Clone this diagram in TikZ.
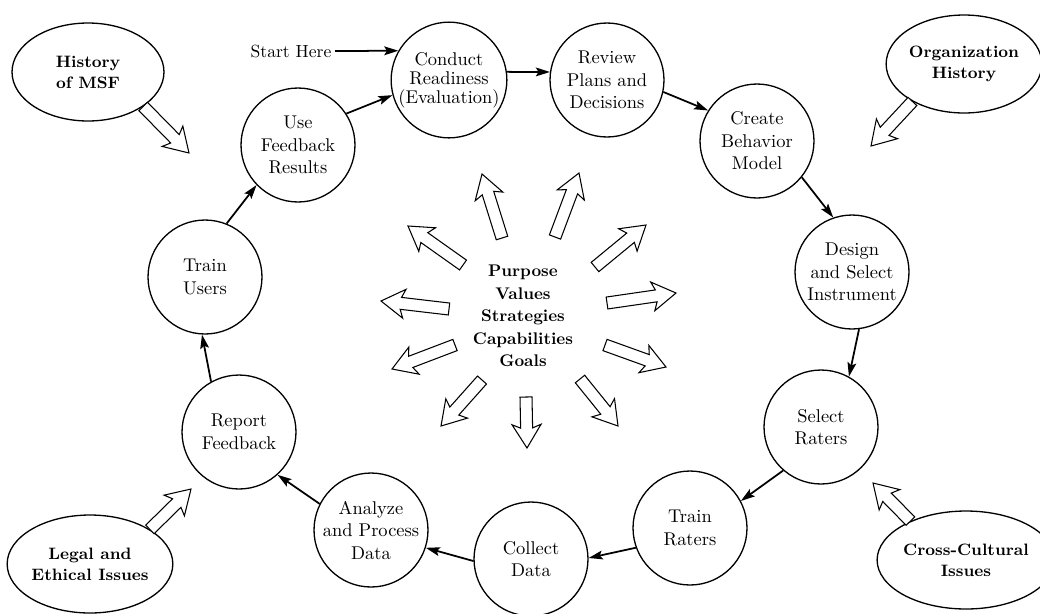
\documentclass[tikz,border=0pt]{standalone}
\usetikzlibrary{shapes.geometric,arrows.meta,calc}

\tikzset{
  stage/.style={circle, draw, line width=0.75pt, minimum size=2.28cm, inner sep=0pt,
    align=center, font=\fontsize{10.5}{12.8}\selectfont},
  influence/.style={ellipse, draw, line width=0.75pt, minimum width=3.04cm,
    minimum height=1.96cm, inner sep=0pt, align=center,
    font=\fontsize{9.4}{12}\selectfont\bfseries},
  flow/.style={line width=1pt, -{Stealth[length=8pt,width=5pt,inset=1.5pt]}},
  hollow/.style={draw, line width=0.6pt, fill=white, line join=miter},
}

% open block arrow from #1 (tail) to #2 (tip)
\newcommand{\hollowarrow}[2]{%
  \coordinate (ha-base) at ($(#2)!0.40cm!(#1)$);
  \coordinate (ha-barb) at ($(#2)!0.47cm!(#1)$);
  \draw[hollow] ($(#1)!0.12cm!90:(#2)$) -- ($(ha-base)!0.12cm!90:(#2)$)
    -- ($(ha-barb)!0.29cm!90:(#2)$) -- (#2) -- ($(ha-barb)!0.29cm!-90:(#2)$)
    -- ($(ha-base)!0.12cm!-90:(#2)$) -- ($(#1)!0.12cm!-90:(#2)$) -- cycle;}

\begin{document}
\begin{tikzpicture}[x=0.02cm, y=-0.02cm]
  \useasboundingbox (0,0) rectangle (1040,613);

  % stages of the cycle
  \node[stage, font=\fontsize{10.5}{10.9}\selectfont] (conduct) at (449,80) {Conduct\\Readiness\\(Evaluation)};
  \node[stage] (review) at (607,80) {Review\\Plans and\\Decisions};
  \node[stage] (create) at (757,141) {Create\\Behavior\\Model};
  \node[stage] (design) at (852,272) {Design\\and Select\\Instrument};
  \node[stage] (select) at (821,427) {Select\\Raters};
  \node[stage] (trainr) at (690,528) {Train\\Raters};
  \node[stage] (collect) at (531,559) {Collect\\Data};
  \node[stage] (analyze) at (371,530) {Analyze\\and Process\\Data};
  \node[stage] (report) at (239,432) {Report\\Feedback};
  \node[stage] (trainu) at (205,277) {Train\\Users};
  \node[stage] (use) at (298,145) {Use\\Feedback\\Results};

  \node[font=\fontsize{10}{12}\selectfont, inner sep=2pt] (start) at (291,51) {Start Here};

  % influences
  \node[influence] (msf) at (88,72) {History\\of MSF};
  \node[influence] (org) at (964,64) {Organization\\History};
  \node[influence] (legal) at (90,564) {Legal and\\Ethical Issues};
  \node[influence] (cross) at (966,560) {Cross-Cultural\\Issues};

  \node[font=\fontsize{9.6}{12.8}\selectfont\bfseries, align=center] (core) at (523,316)
    {Purpose\\Values\\Strategies\\Capabilities\\Goals};

  % cycle connectors
  \draw[flow] (start.east) -- (conduct.150);
  \draw[flow] (conduct.8) -- (review.172);
  \draw[flow] (review.348) -- (create.148);
  \draw[flow] (create.321) -- (design.109);
  \draw[flow] (design.277) -- (select.61);
  \draw[flow] (select.229) -- (trainr.28);
  \draw[flow] (trainr.200) -- (collect.1);
  \draw[flow] (collect.182) -- (analyze.342);
  \draw[flow] (analyze.153) -- (report.312);
  \draw[flow] (report.119) -- (trainu.267);
  \draw[flow] (trainu.68) -- (use.224);
  \draw[flow] (use.33) -- (conduct.195);

  % outside influences
  \coordinate (msf-tip) at (189,153);
  \coordinate (org-tip) at (871,146);
  \coordinate (legal-tip) at (191,489);
  \coordinate (cross-tip) at (873,483);
  \hollowarrow{msf.-32}{msf-tip}
  \hollowarrow{org.216}{org-tip}
  \hollowarrow{legal.30}{legal-tip}
  \hollowarrow{cross.145}{cross-tip}

  % arrows out of the core
  \foreach \a/\b/\c/\d in {502/238/482/174, 555/237/579/173, 463/265/408/226,
      595/267/646/225, 449/309/381/301, 607/303/676/293, 455/345/392/369,
      605/345/666/367, 482/380/441/426, 526/397/527/448, 580/379/618/426}
    {\hollowarrow{\a,\b}{\c,\d}}
\end{tikzpicture}
\end{document}
